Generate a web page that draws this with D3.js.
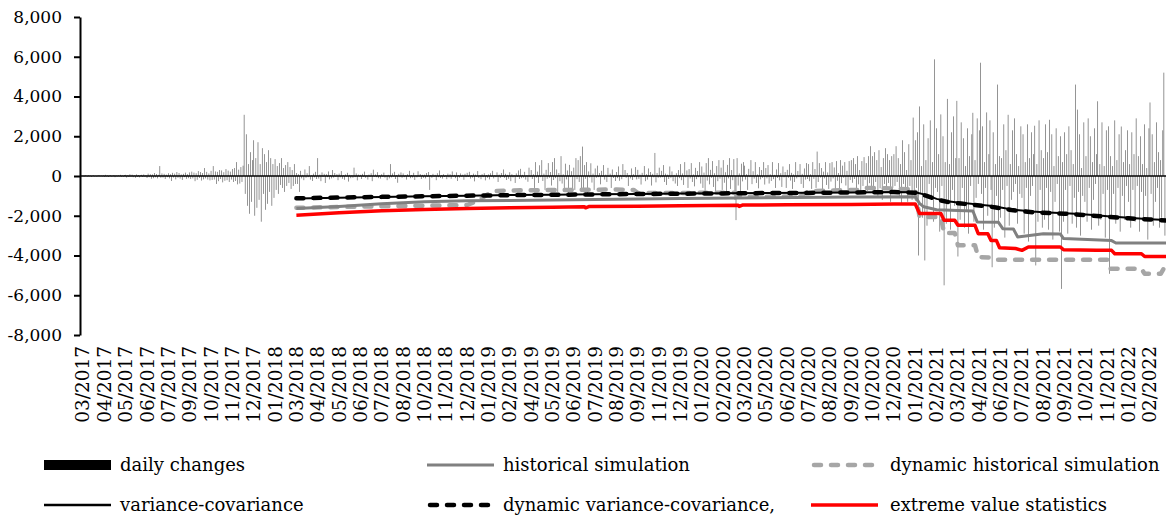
<!DOCTYPE html>
<html>
<head>
<meta charset="utf-8">
<script src="https://cdn.jsdelivr.net/npm/d3@7"></script>
<style>
  body { margin: 0; background: #fff; }
  text { font-family: "DejaVu Serif", serif; fill: #000; }
</style>
</head>
<body>
<div id="chart"></div>
<script>
const width = 1166,
    height = 515;

// category labels of the x axis (one every ~25 trading days)
const tickLabels = [
    "03/2017", "04/2017", "05/2017", "06/2017", "07/2017", "09/2017", "10/2017", "11/2017", "12/2017",
    "01/2018", "03/2018", "04/2018", "05/2018", "06/2018", "07/2018", "08/2018", "10/2018", "11/2018", "12/2018",
    "01/2019", "02/2019", "04/2019", "05/2019", "06/2019", "07/2019", "08/2019", "09/2019", "11/2019", "12/2019",
    "01/2020", "02/2020", "03/2020", "05/2020", "06/2020", "07/2020", "08/2020", "09/2020", "10/2020", "12/2020",
    "01/2021", "02/2021", "03/2021", "04/2021", "06/2021", "07/2021", "08/2021", "09/2021", "10/2021", "11/2021",
    "01/2022", "02/2022"
];

const yTicks = [8000, 6000, 4000, 2000, 0, -2000, -4000, -6000, -8000];

// daily changes, 20 values per label interval
const dayStep = 0.05;
const dailyChanges = [
    20,-30,40,10,-20,30,-10,20,-40,10,30,-20,10,-30,20,40,-10,20,-20,30,
    -40,60,-20,30,-50,20,40,-30,10,50,-60,30,-20,40,-10,60,-40,20,-30,50,
    60,-80,40,-50,90,-30,70,-60,30,-90,80,-40,50,-70,30,60,-50,80,-30,40,
    -100,120,-60,90,-140,80,-110,150,-70,100,-120,60,500,-90,130,-80,110,-150,70,-60,
    140,-120,90,-250,160,-80,120,-170,200,-90,150,-130,80,-200,110,-60,170,-140,90,-110,
    180,-150,220,-120,170,-260,140,-190,250,-100,200,-230,150,-170,400,-120,210,-180,130,-220,
    260,-200,500,-180,230,-400,210,-260,300,-150,280,-320,190,-240,350,-210,270,-300,220,-180,
    350,-300,400,-250,700,-420,320,-380,450,-300,520,3080,-900,2100,-1500,600,-1900,1200,-1300,800,
    1800,-2000,900,-1600,1700,-1200,600,-2300,1400,-900,1100,-1700,700,-1400,1300,-800,900,-1500,600,-1100,
    850,-700,500,-900,650,-450,900,-600,400,-800,550,-500,700,-350,450,-650,300,-500,600,-400,
    150,-400,90,-800,260,-120,60,-210,330,-90,140,-60,500,-180,40,-250,120,-70,210,-150,
    900,-130,70,-260,180,-40,110,-350,90,-60,230,-170,50,-120,300,-80,150,-40,90,-210,
    120,-70,250,-140,40,-190,80,-30,160,-280,60,-110,30,-90,420,-60,130,-220,70,-40,
    60,-150,110,-40,220,-90,30,-180,70,-50,140,-260,320,-30,80,-60,190,-110,40,-130,
    90,-40,170,-80,30,-210,60,-120,600,-70,130,-30,210,-150,50,-340,110,-60,180,-90,
    130,-60,40,-180,90,-30,260,-110,50,-80,160,-200,30,-70,240,-40,100,-150,60,-90,
    70,-120,150,-40,200,-700,50,-90,110,-30,60,-210,140,-60,280,-100,40,-130,90,-50,
    40,-160,120,-70,90,-140,230,-30,60,-110,180,-250,50,-80,130,-40,70,-190,110,-60,
    160,-50,210,-130,40,-80,120,-270,70,-40,250,-100,30,-160,90,-60,140,-220,50,-90,
    80,-170,140,-40,260,-120,50,-60,180,-300,70,-100,150,-30,330,-90,110,-200,60,-140,
    190,-260,90,-70,40,-350,130,-50,280,-150,360,-110,60,-80,210,-180,40,-290,420,-60,
    300,-150,90,-600,700,-80,220,-350,540,-60,800,-250,120,-700,310,-140,650,-90,200,-480,
    700,-200,900,-110,330,-800,150,-260,1000,-380,90,-700,620,-170,280,-900,560,-60,240,-650,
    420,-700,900,-160,800,-300,1000,-800,1480,-620,550,-140,700,-900,230,-80,640,-330,120,-700,
    380,-90,520,-60,150,-420,260,-40,550,-180,70,-300,410,-50,120,-600,330,-100,60,-250,
    200,-110,480,-240,60,-160,600,-50,300,-90,150,-500,40,-120,380,-200,90,-60,450,-170,
    310,-140,70,-430,160,-50,500,-260,90,-180,380,-40,200,-480,110,-70,1160,-320,150,-90,
    420,-80,260,-60,550,-300,120,-450,70,-150,480,-90,230,-260,60,-380,140,-500,300,-110,
    600,-210,130,-450,700,-70,280,-600,350,-120,650,-300,80,-520,410,-160,250,-60,700,-380,
    480,-600,170,-800,650,-230,900,-420,310,-90,750,-550,140,-900,500,-260,800,-130,420,-700,
    800,-340,190,-900,560,-120,900,-650,300,-210,850,-1200,-2220,900,-480,130,-800,620,-270,700,
    520,-180,90,-700,360,-60,800,-410,240,-130,700,-350,80,-620,450,-170,300,-90,700,-430,
    400,-120,550,-380,90,-250,700,-160,60,-600,330,-100,650,-220,140,-550,480,-70,200,-600,
    310,-90,600,-230,160,-650,80,-300,700,-120,250,-60,600,-400,110,-600,380,-180,650,-150,
    600,-260,90,-650,700,-140,350,-600,1230,-300,650,-80,400,-700,220,-120,700,-450,180,-650,
    650,-280,700,-120,430,-700,750,-240,150,-650,800,-360,520,-90,700,-480,260,-700,750,-200,
    800,-340,900,-150,600,-850,1000,-420,300,-900,750,-500,950,-190,650,-750,1000,-360,1500,-600,
    1000,-500,1200,-300,800,-1000,1300,-620,450,-1200,900,-400,1400,-700,1100,-350,800,-1300,1000,-600,
    1100,-500,1500,-300,900,-1100,600,-1400,1800,-400,1200,-700,300,-1300,1600,-500,800,-1200,2940,-900,
    1800,-600,2200,-4000,3500,-900,500,-2100,2600,-4250,800,-2500,1900,-400,2800,-1100,700,-2300,5870,-600,
    2400,-800,1100,-2800,3100,-500,2000,-5500,700,-2400,3880,-1300,600,-2700,2200,-700,3000,-1500,900,3780,
    -4050,900,-2200,2700,-600,1900,-2600,500,-1800,2400,-2900,1000,-500,2100,3180,-2300,800,-1100,2900,-400,
    2300,5700,-900,2500,-2700,700,-600,3200,-2000,1100,2800,-700,-4590,2200,-2600,600,-1000,4600,-2300,1000,
    -2100,900,-700,2600,-3100,1300,-500,3080,-2500,600,-1200,2300,-800,2900,-400,1100,-2400,500,-900,2500,
    -1100,2100,-2900,700,-600,2600,-3300,900,-1000,2200,-500,1100,2530,-4500,600,-2300,2800,-700,1300,-2600,
    900,-2200,2600,-600,1200,-2700,2830,-800,2100,-3200,500,-1300,2400,-400,1000,-2800,2000,-5680,700,-2300,
    2200,-700,1100,-2900,2500,-500,1300,-2400,600,-1100,4600,-2600,3340,-800,2100,-3000,400,-1000,2700,-1300,
    1000,-2300,2900,-600,2000,-2700,700,-1200,2400,-400,1100,3760,-2500,600,-2200,2700,-900,500,-3100,2300,
    -700,2500,-4920,1000,-2100,500,-900,2800,-2400,800,-600,2100,-2800,2490,-1000,700,-2200,1300,-500,2300,
    -1300,600,-2600,2200,-700,1100,-2300,2900,-500,1000,-2800,2000,-800,600,-2100,2600,-1000,400,-3200,2400,
    3700,-900,2100,-2500,700,-1300,2700,-600,1200,-2600,800,-2100,2300,5200,-3000
];

// risk measures: [label position, value]
const histSim = [
    [10,-1630],[12,-1530],[14,-1400],[16,-1300],[18,-1250],[20,-1230],[24,-1180],[28,-1130],[32,-1090],
    [36,-1060],[39,-1045],[39.2,-1380],[39.4,-1550],[40,-1700],[41.7,-1760],[41.9,-2310],[42.9,-2330],
    [43.1,-2650],[43.6,-2670],[43.8,-3070],[45,-2900],[45.8,-2920],[45.95,-3150],[48.2,-3250],[48.4,-3370],[50.75,-3370]
];

const dynHistSim = [
    [10,-1600],[14,-1520],[18,-1460],[18.5,-1250],[19.2,-760],[20.5,-720],[25,-680],[25.8,-700],[26,-860],
    [30.5,-840],[30.9,-1045],[33.6,-1030],[34,-760],[36.3,-700],[36.6,-600],[37.6,-620],[39,-680],
    [39.2,-2060],[40.2,-2060],[40.35,-2870],[40.85,-2870],[41,-3490],[41.8,-3490],[41.95,-4080],[42.5,-4100],
    [42.7,-4210],[48,-4210],[48.15,-4670],[49.6,-4670],[49.75,-4920],[50.5,-4920],[50.65,-4640],[50.75,-4640]
];

const varCov = [
    [10,-1130],[12,-1090],[14,-1055],[16,-1020],[18,-990],[20,-960],[22,-940],[24,-920],[26,-900],[28,-885],
    [30,-870],[32,-860],[34,-845],[36,-825],[38,-800],[39,-820],[39.5,-950],[40,-1150],[40.5,-1270],[41,-1330],
    [41.5,-1380],[42,-1440],[42.5,-1500],[43,-1580],[43.5,-1680],[44,-1740],[44.5,-1790],[45,-1820],[45.5,-1850],
    [46,-1870],[46.5,-1900],[47,-1940],[47.5,-1980],[48,-2020],[48.5,-2060],[49,-2100],[49.5,-2140],[50,-2170],[50.75,-2220]
];

const dynVarCov = [
    [10,-1120],[12,-1085],[14,-1050],[16,-1020],[18,-990],[20,-965],[22,-945],[24,-925],[26,-905],[28,-890],
    [30,-875],[32,-860],[34,-850],[36,-830],[38,-810],[39,-840],[39.5,-990],[40,-1180],[40.5,-1300],[41,-1370],
    [41.5,-1420],[42,-1480],[42.5,-1540],[43,-1620],[43.5,-1710],[44,-1770],[44.5,-1820],[45,-1850],[45.5,-1880],
    [46,-1900],[46.5,-1930],[47,-1970],[47.5,-2010],[48,-2050],[48.5,-2090],[49,-2130],[49.5,-2160],[50,-2190],[50.75,-2240]
];

const extremeValue = [
    [10,-1970],[12,-1850],[14,-1750],[16,-1680],[18,-1640],[20,-1600],[22,-1570],[23.5,-1545],[23.55,-1600],
    [23.7,-1540],[26,-1520],[28,-1500],[30.7,-1470],[30.75,-1530],[30.9,-1465],[33,-1450],[36,-1430],[38,-1410],
    [39,-1410],[39.2,-1890],[40.2,-1890],[40.35,-2230],[40.85,-2230],[41,-2480],[41.8,-2480],[41.95,-2900],
    [42.4,-2900],[42.55,-3240],[42.8,-3240],[42.95,-3610],[43.7,-3650],[44,-3740],[44.3,-3570],[45.8,-3570],
    [45.95,-3710],[47.5,-3740],[48.2,-3740],[48.35,-3910],[49.6,-3910],[49.75,-4050],[50.75,-4050]
];

const legendLabels = [
    "daily changes", "historical simulation", "dynamic historical simulation",
    "variance-covariance", "dynamic variance-covariance,", "extreme value statistics"
];

const svg = d3.select("#chart")
    .append("svg")
    .attr("width", width)
    .attr("height", height);

const x = d3.scaleLinear()
    .domain([0, 50])
    .range([83, 1150]);

const y = d3.scaleLinear()
    .domain([-8000, 8000])
    .range([335, 17]);

// daily change bars
svg.append("g")
    .selectAll("rect")
    .data(dailyChanges)
    .join("rect")
    .attr("x", function(d, i) { return x(i * dayStep) - 0.3 })
    .attr("width", 0.6)
    .attr("y", function(d) { return Math.min(y(d), y(0)) })
    .attr("height", function(d) { return Math.abs(y(d) - y(0)) })
    .attr("fill", "#4d4d4d");

// zero line
svg.append("line")
    .attr("x1", 80)
    .attr("x2", width)
    .attr("y1", y(0))
    .attr("y2", y(0))
    .attr("stroke", "black")
    .attr("stroke-width", 1.5);

// y axis
const fmt = d3.format(",");
const yAxis = svg.append("g")
    .attr("transform", "translate(80,0)")
    .call(d3.axisLeft(y)
        .tickValues(yTicks)
        .tickSize(6)
        .tickSizeOuter(0)
        .tickPadding(12)
        .tickFormat(function(d) { return fmt(d).replace("\u2212", "-") }));
yAxis.select(".domain").attr("stroke-width", 2);
yAxis.selectAll(".tick line").attr("stroke-width", 2);
yAxis.selectAll("text")
    .style("font-family", "DejaVu Serif")
    .style("font-size", "17px")
    .attr("fill", "black");

// x labels, rotated
svg.append("g")
    .attr("transform", "translate(0,346)")
    .selectAll("text")
    .data(tickLabels)
    .join("text")
    .attr("transform", function(d, i) { return `translate(${x(i)},0) rotate(-90)` })
    .attr("dy", "0.35em")
    .attr("text-anchor", "end")
    .style("font-size", "18.5px")
    .text(function(d) { return d });

// risk lines
const line = d3.line()
    .x(function(d) { return x(d[0]) })
    .y(function(d) { return y(d[1]) });

const series = [
    { data: dynHistSim, color: "#a6a6a6", width: 4.5, dash: "7,10" },
    { data: histSim, color: "#808080", width: 3, dash: null },
    { data: extremeValue, color: "#ff0000", width: 3.5, dash: null },
    { data: varCov, color: "#000000", width: 2, dash: null },
    { data: dynVarCov, color: "#000000", width: 4.5, dash: "7,10" }
];

svg.append("g")
    .selectAll("path")
    .data(series)
    .join("path")
    .attr("d", function(d) { return line(d.data) })
    .attr("fill", "none")
    .attr("stroke", function(d) { return d.color })
    .attr("stroke-width", function(d) { return d.width })
    .attr("stroke-dasharray", function(d) { return d.dash })
    .attr("stroke-linecap", function(d) { return d.dash ? "round" : "butt" })
    .attr("stroke-linejoin", "round");

// legend
const legendItems = [
    { type: "rect", color: "#000000", width: 10, dash: null },
    { type: "line", color: "#808080", width: 3, dash: null },
    { type: "line", color: "#a6a6a6", width: 4.5, dash: "7,10" },
    { type: "line", color: "#000000", width: 2.5, dash: null },
    { type: "line", color: "#000000", width: 4.5, dash: "7,10" },
    { type: "line", color: "#ff0000", width: 3.5, dash: null }
];
const colX = [44, 427, 811];
const rowY = [465, 505];

const legend = svg.append("g")
    .selectAll("g")
    .data(legendLabels)
    .join("g")
    .attr("transform", function(d, i) { return `translate(${colX[i % 3]},${rowY[Math.floor(i / 3)]})` });

legend.each(function(d, i) {
    const g = d3.select(this);
    const it = legendItems[i];
    if (it.type === "rect") {
        g.append("rect")
            .attr("x", 0).attr("y", -5)
            .attr("width", 67).attr("height", 10)
            .attr("fill", it.color);
    } else {
        g.append("line")
            .attr("x1", it.dash ? 3 : 0).attr("x2", it.dash ? 64 : 67)
            .attr("stroke", it.color)
            .attr("stroke-width", it.width)
            .attr("stroke-dasharray", it.dash)
            .attr("stroke-linecap", it.dash ? "round" : "butt");
    }
    g.append("text")
        .attr("x", i % 3 === 2 ? 79 : 76)
        .attr("dy", "0.35em")
        .style("font-size", "18px")
        .text(d);
});
</script>
</body>
</html>
